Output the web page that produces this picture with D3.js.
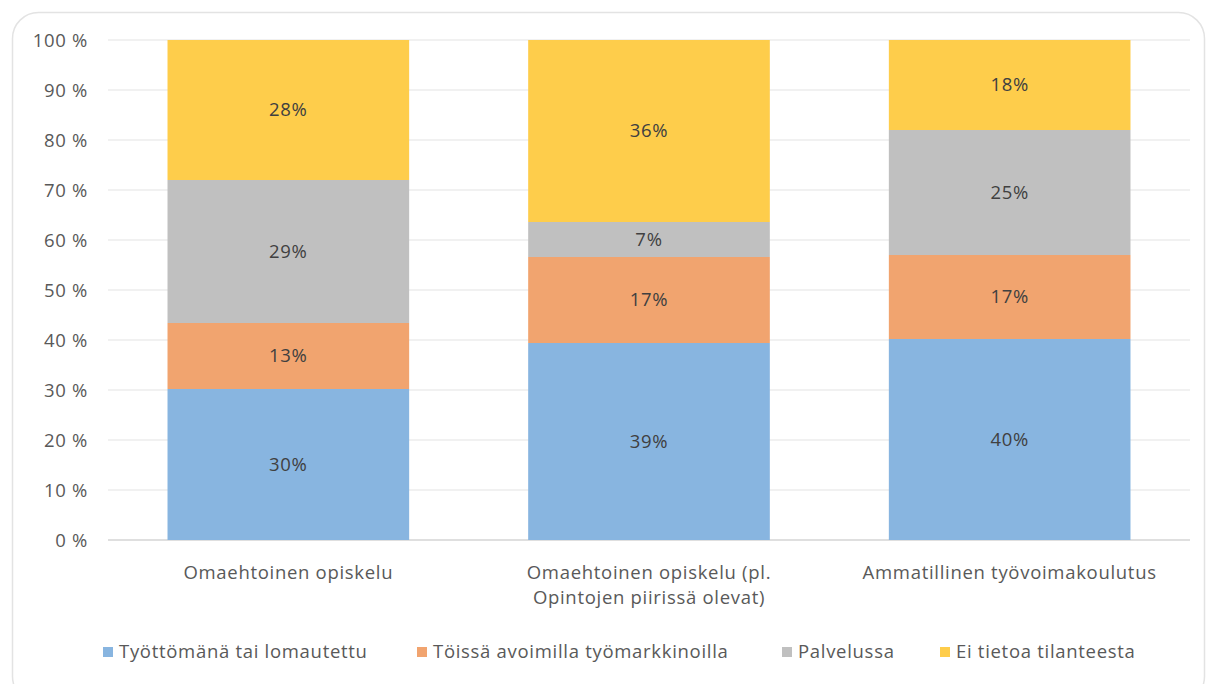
<!DOCTYPE html>
<html><head><meta charset="utf-8">
<script src="https://cdn.jsdelivr.net/npm/d3@7"></script>
<style>body{margin:0;background:#fff;}svg{display:block;}</style>
</head><body>
<svg id="c" width="1209" height="684"></svg>
<script>
const categories = [
  ["Omaehtoinen opiskelu"],
  ["Omaehtoinen opiskelu (pl.", "Opintojen piirissä olevat)"],
  ["Ammatillinen työvoimakoulutus"]
];
const seriesNames = ["Työttömänä tai lomautettu", "Töissä avoimilla työmarkkinoilla", "Palvelussa", "Ei tietoa tilanteesta"];
const unemployed = [30.2, 39.4, 40.2];
const working = [13.2, 17.2, 16.8];
const inService = [28.6, 7.0, 25.0];
const noInfo = [28.0, 36.4, 18.0];
const yTicks = [0, 10, 20, 30, 40, 50, 60, 70, 80, 90, 100];
const colors = ["#88b5e0", "#f1a46f", "#c0c0c0", "#fecd4b"];

const svg = d3.select("#c");
const font = "'Open Sans', sans-serif";
const fs = 18.5, ls = 0.7;

svg.append("rect").attr("x", 12.5).attr("y", 12.5).attr("width", 1192).attr("height", 690)
  .attr("rx", 26).attr("fill", "#fff").attr("stroke", "#e3e3e3").attr("stroke-width", 1.5);

const x = d3.scaleBand().domain(d3.range(categories.length)).range([108, 1190])
  .paddingInner(0.33).paddingOuter(0.165);
const y = d3.scaleLinear().domain([0, 100]).range([540, 40]);

// gridlines
svg.append("g").selectAll("line").data(yTicks).join("line")
  .attr("x1", 108).attr("x2", 1190)
  .attr("y1", d => y(d)).attr("y2", d => y(d))
  .attr("stroke", d => d === 0 ? "#d4d4d4" : "#ececec").attr("stroke-width", 1.5);

// y axis
const yAxis = d3.axisLeft(y).tickValues(yTicks).tickFormat(d => d + " %").tickSize(0).tickPadding(0);
const ya = svg.append("g").attr("transform", "translate(88,0)").call(yAxis);
ya.select(".domain").remove();
ya.selectAll("text").attr("font-family", font).attr("font-size", fs).attr("letter-spacing", ls)
  .attr("fill", "#595959").attr("dy", "0.35em");

const data = categories.map((c, i) => ({i, unemployed: unemployed[i], working: working[i], inService: inService[i], noInfo: noInfo[i]}));
const keys = ["unemployed", "working", "inService", "noInfo"];
const stacked = d3.stack().keys(keys)(data);

const layers = svg.append("g").selectAll("g").data(stacked).join("g").attr("fill", (d, k) => colors[k]);
layers.selectAll("rect").data(d => d).join("rect")
  .attr("x", d => x(d.data.i)).attr("width", x.bandwidth())
  .attr("y", d => y(d[1])).attr("height", d => y(d[0]) - y(d[1]));

layers.selectAll("text").data(d => d).join("text")
  .attr("x", d => x(d.data.i) + x.bandwidth() / 2)
  .attr("y", d => (y(d[0]) + y(d[1])) / 2)
  .attr("dy", "0.35em").attr("text-anchor", "middle")
  .attr("font-family", font).attr("font-size", fs).attr("letter-spacing", ls).attr("fill", "#404040")
  .text(d => Math.round(d[1] - d[0]) + "%");

// category labels
const cat = svg.append("g").selectAll("text").data(categories).join("text")
  .attr("x", (d, i) => x(i) + x.bandwidth() / 2).attr("y", 579)
  .attr("text-anchor", "middle").attr("font-family", font).attr("font-size", fs).attr("letter-spacing", ls)
  .attr("fill", "#595959");
cat.selectAll("tspan").data(d => d).join("tspan")
  .attr("x", function() { return this.parentNode.getAttribute("x"); })
  .attr("dy", (d, j) => j === 0 ? 0 : 25).text(d => d);

// legend
const legendX = [103, 417, 782, 940];
const lg = svg.append("g").selectAll("g").data(seriesNames).join("g")
  .attr("transform", (d, i) => `translate(${legendX[i]},652)`);
lg.append("rect").attr("x", 0).attr("y", -5).attr("width", 10).attr("height", 10).attr("fill", (d, i) => colors[i]);
lg.append("text").attr("x", 16).attr("dy", "0.35em").attr("font-family", font).attr("font-size", fs)
  .attr("letter-spacing", ls).attr("fill", "#595959").text(d => d);
</script>
</body></html>
